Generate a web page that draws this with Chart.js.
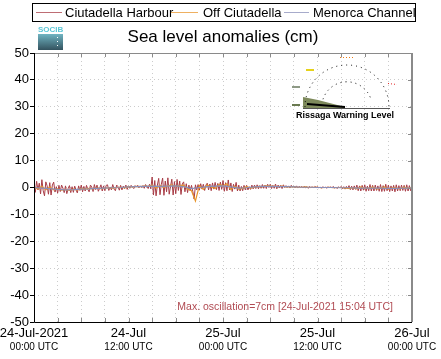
<!DOCTYPE html>
<html>
<head>
<meta charset="utf-8">
<script src="https://cdn.jsdelivr.net/npm/chart.js@4.4.1/dist/chart.umd.min.js"></script>
<style>
  html, body { margin: 0; padding: 0; background: #fff; }
  canvas { display: block; }
</style>
</head>
<body>
<canvas id="slaChart" width="441" height="359"></canvas>
<script>
// series names and colours
const seriesNames = ["Ciutadella Harbour", "Off Ciutadella", "Menorca Channel"];
const seriesColors = ["#a83c46", "#e8952c", "#8a8fba"];

// hours since 24-Jul-2021 00:00 UTC
const xTickHours = [0, 12, 24, 36, 48];
const xTickDates = ["24-Jul-2021", "24-Jul", "25-Jul", "25-Jul", "26-Jul"];
const xTickTimes = ["00:00 UTC", "12:00 UTC", "00:00 UTC", "12:00 UTC", "00:00 UTC"];
const yTicks = [-50, -40, -30, -20, -10, 0, 10, 20, 30, 40, 50];

// Ciutadella Harbour, one value every 10 min (cm), one row per hour
const harbourStep = 1 / 6;
const harbour = [
  0.4, -1.8, 2.3, -0.9, 1.6, -2.4,
  2.9, -1.2, -3.1, 2.1, 0.6, -2.5,
  1.8, -2.8, 0.9, 2.0, -1.7, 0.3,
  -2.1, 0.8, -1.5, 0.9, -0.2, -1.9,
  0.6, -2.3, -0.4, 0.7, -1.9, 0.3,
  -1.8, 0.5, -0.9, -2.0, 0.6, -1.1,
  0.9, -1.6, 0.4, -1.3, 0.8, -0.7,
  -1.6, 0.9, 0.2, -1.5, 1.1, -0.8,
  0.9, -1.4, -0.3, 1.0, -1.3, 0.6,
  -1.2, 0.8, 1.0, -1.1, 0.2, -0.9,
  1.1, -0.6, -1.2, 0.9, 0.3, -1.0,
  0.8, -0.9, 0.5, -0.4, 0.9, -0.7,
  0.6, -0.3, 0.8, 0.1, -0.4, 0.7,
  0.2, 0.8, -0.1, 0.6, 0.0, 0.7,
  -0.3, 1.1, 0.2, -0.4, 1.2, -0.5,
  3.9, -2.8, 2.6, -3.1, 0.9, 3.4,
  -2.7, 1.2, 3.5, -2.9, 2.4, -1.6,
  3.6, -2.5, 0.4, 3.1, -2.8, 2.2,
  -2.3, 3.0, -1.1, 2.4, -2.6, 1.3,
  2.1, -1.6, 1.4, -1.9, 0.9, -1.2,
  0.8, -1.5, -4.3, 1.0, -0.9, 1.1,
  -1.0, 1.4, -0.6, 1.2, -1.1, 0.9,
  1.6, -0.9, 1.3, -1.2, 1.7, -0.6,
  1.9, -0.8, 1.5, -1.1, 2.0, -0.7,
  2.6, -1.4, 1.8, -1.2, 2.8, -0.9,
  1.7, -1.5, 1.2, -0.6, 1.9, -1.3,
  0.9, -1.3, 0.4, -1.2, 0.8, -0.9,
  0.8, -0.9, 0.3, -0.7, 0.9, -0.5,
  0.9, -0.4, 1.0, -0.5, 0.7, -0.3,
  1.1, -0.3, 0.9, -0.4, 1.2, 0.0,
  1.2, -0.4, 0.8, -0.3, 1.3, -0.5,
  0.9, -0.2, 0.8, -0.4, 1.0, 0.0,
  0.7, 0.0, 0.6, -0.2, 0.8, 0.1,
  0.5, -0.1, 0.6, -0.2, 0.4, 0.0,
  0.4, -0.2, 0.5, -0.1, 0.3, -0.3,
  0.4, -0.1, 0.3, -0.2, 0.4, 0.0,
  0.3, -0.2, 0.2, -0.3, 0.3, -0.1,
  0.2, -0.3, 0.3, -0.2, 0.3, -0.2,
  0.4, -0.3, 0.2, -0.4, 0.3, -0.2,
  0.4, -0.5, 0.3, -0.6, 0.4, -0.4,
  0.7, -0.8, 0.5, -0.9, 0.6, -0.7,
  0.9, -1.2, 0.6, -1.3, 0.8, -1.0,
  1.0, -1.4, 0.5, -1.2, 1.1, -1.3,
  0.8, -1.3, 0.9, -1.1, 0.6, -1.4,
  1.1, -1.5, 0.7, -1.4, 1.2, -1.2,
  0.9, -1.5, 0.6, -1.3, 0.8, -1.6,
  1.0, -1.3, 0.7, -1.2, 0.9, -1.1,
  0.8, -1.4, 1.0, -1.3, 0.7, -1.2,
  0.2
];

// Off Ciutadella, one value every 30 min (cm)
const offStep = 0.5;
const offCiutadella = [
  0.3, -0.6,  0.5, -0.8,  0.2, -0.9,  -0.5, -1.0,  -0.7, -1.1,  -0.6, -0.9,
  -0.4, -0.6,  -0.3, -0.5,  -0.2, -0.4,  -0.3, -0.1,  -0.2, 0.0,  0.1, -0.1,
  0.3, 0.2,  0.4, 0.3,  0.5, 0.4,  0.9, -0.2,  0.8, 0.1,  0.6, 1.0,
  0.3, 0.7,  0.9, -0.6,  -1.2, -5.0,  0.8, -0.7,  0.9, 0.2,  -0.4, 1.2,
  0.6, 1.4,  -0.8, 0.5,  -0.6, -0.3,  0.3, -0.2,  0.1, 0.4,  0.3, 0.6,
  0.5, 0.4,  0.3, 0.5,  0.2, 0.3,  0.2, 0.1,  0.1, 0.2,  0.0, 0.1,
  0.1, -0.1,  0.0, 0.1,  -0.1, 0.0,  0.0, -0.2,  -0.3, -0.1,  -0.5, 0.2,
  -0.4, -0.2,  0.1, -0.5,  -0.3, 0.2,  -0.6, -0.1,  -0.2, -0.5,  0.1, -0.3,
  -0.1
];

// Menorca Channel, one value every hour (cm)
const channelStep = 1;
const menorcaChannel = [
  0.0, -0.2, -0.4, -0.7, -0.9, -0.8, -0.6, -0.5, -0.3, -0.2, -0.1, 0.0,
  0.2, 0.3, 0.4, 0.5, 0.4, 0.5, 0.6, 0.3, -0.4, 0.0, 0.3, 0.5,
  0.6, 0.2, -0.2, -0.1, 0.2, 0.4, 0.4, 0.3, 0.3, 0.2, 0.1, 0.1,
  0.0, 0.0, 0.0, -0.1, -0.1, -0.2, -0.2, -0.2, -0.2, -0.3, -0.3, -0.2,
  -0.2
];

const maxOscText = "Max. oscillation=7cm [24-Jul-2021 15:04 UTC]";
const titleText = "Sea level anomalies (cm)";
const FONT = "'Liberation Sans', Arial, Helvetica, sans-serif";

const toPoints = (vals, step) => vals.map((v, i) => ({ x: i * step, y: v }));

// legend, title, logo, frame, tick labels and the warning gauge
const decorations = {
  id: "decorations",
  afterDraw(chart) {
    const ctx = chart.ctx;
    const area = chart.chartArea;
    const xs = chart.scales.x;
    const ys = chart.scales.y;
    ctx.save();

    // frame
    ctx.strokeStyle = "#8a8a8a";
    ctx.lineWidth = 2;
    ctx.beginPath();
    ctx.moveTo(area.right, area.top);
    ctx.lineTo(area.right, area.bottom);
    ctx.stroke();
    ctx.lineWidth = 1;
    ctx.beginPath();
    ctx.moveTo(area.left, area.top + 0.5);
    ctx.lineTo(area.right, area.top + 0.5);
    ctx.stroke();
    // inner ticks
    for (let h = 0; h <= 48; h += 3) {
      const px = Math.round(xs.getPixelForValue(h)) + 0.5;
      ctx.beginPath();
      ctx.moveTo(px, area.bottom); ctx.lineTo(px, area.bottom - 4);
      ctx.moveTo(px, area.top); ctx.lineTo(px, area.top + 4);
      ctx.stroke();
    }
    yTicks.forEach(v => {
      const py = Math.round(ys.getPixelForValue(v)) + 0.5;
      ctx.beginPath();
      ctx.moveTo(area.right, py); ctx.lineTo(area.right - 4, py);
      ctx.stroke();
    });
    ctx.strokeStyle = "#000";
    ctx.beginPath();
    ctx.moveTo(area.left + 0.5, area.top);
    ctx.lineTo(area.left + 0.5, area.bottom + 0.5);
    ctx.lineTo(area.right, area.bottom + 0.5);
    ctx.stroke();

    // x labels, two lines
    ctx.fillStyle = "#000";
    ctx.textAlign = "center";
    ctx.textBaseline = "middle";
    xTickHours.forEach((h, i) => {
      const px = xs.getPixelForValue(h);
      ctx.font = "13px " + FONT;
      ctx.fillText(xTickDates[i], px, 333);
      ctx.font = "10px " + FONT;
      ctx.fillText(xTickTimes[i], px, 347);
    });

    // max oscillation note
    ctx.font = "10.5px " + FONT;
    ctx.fillStyle = "#b04a52";
    ctx.textAlign = "right";
    ctx.fillText(maxOscText, 393, 307);

    // title
    ctx.fillStyle = "#000";
    ctx.textAlign = "center";
    ctx.font = "17px " + FONT;
    ctx.fillText(titleText, 223, 37);

    // legend box
    ctx.strokeStyle = "#000";
    ctx.lineWidth = 1;
    ctx.strokeRect(32.5, 3.5, 383, 18);
    const legendLines = [[36, 62, 65], [171, 198, 203], [284, 309, 313]];
    ctx.font = "13px " + FONT;
    ctx.textAlign = "left";
    seriesNames.forEach((name, i) => {
      const [a, b, t] = legendLines[i];
      ctx.strokeStyle = seriesColors[i];
      ctx.globalAlpha = 0.75;
      ctx.beginPath();
      ctx.moveTo(a, 12.5); ctx.lineTo(b, 12.5);
      ctx.stroke();
      ctx.globalAlpha = 1;
      ctx.fillStyle = "#000";
      ctx.fillText(name, t, 13);
    });

    // SOCIB logo
    ctx.font = "bold 8px " + FONT;
    ctx.fillStyle = "#5cc6d6";
    ctx.fillText("SOCIB", 38, 30);
    const g = ctx.createLinearGradient(0, 34, 0, 50);
    g.addColorStop(0, "#70b4c2");
    g.addColorStop(1, "#33525e");
    ctx.fillStyle = g;
    ctx.fillRect(38, 34, 25, 16);
    ctx.fillStyle = "#fff";
    [37, 41, 45].forEach(y => ctx.fillRect(57, y, 1, 1));

    // rissaga warning gauge
    const cx = 347, cy = 107, r = 42;
    ctx.fillStyle = "#7e8a5c";
    ctx.beginPath();
    ctx.moveTo(303, 97); ctx.lineTo(318, 100); ctx.lineTo(345, 107);
    ctx.lineTo(345, 108); ctx.lineTo(303, 108);
    ctx.closePath(); ctx.fill();
    ctx.strokeStyle = "#000";
    ctx.setLineDash([1, 4]);
    ctx.beginPath();
    ctx.arc(cx, cy, r, Math.PI, 2 * Math.PI);
    ctx.stroke();
    ctx.beginPath();
    ctx.arc(cx, cy, r * 0.6, Math.PI * 1.1, Math.PI * 1.9);
    ctx.stroke();
    ctx.setLineDash([]);
    ctx.lineWidth = 2;
    ctx.beginPath();
    ctx.moveTo(307, 104); ctx.lineTo(345, 107);
    ctx.stroke();
    ctx.lineWidth = 1;
    ctx.strokeStyle = "#555";
    ctx.beginPath();
    ctx.moveTo(303, 108.5); ctx.lineTo(390, 108.5);
    ctx.stroke();
    ctx.fillStyle = "#e6d21a"; ctx.fillRect(306, 69, 8, 2);
    ctx.fillStyle = "#8e9a86"; ctx.fillRect(292, 86, 8, 2);
    ctx.fillStyle = "#6a7a50"; ctx.fillRect(292, 104, 8, 2);
    ctx.setLineDash([1, 2]);
    ctx.strokeStyle = "#f07a10";
    ctx.beginPath(); ctx.moveTo(340, 57.5); ctx.lineTo(354, 57.5); ctx.stroke();
    ctx.strokeStyle = "#e02020";
    ctx.beginPath(); ctx.moveTo(388, 83.5); ctx.lineTo(397, 84.5); ctx.stroke();
    ctx.setLineDash([]);
    ctx.fillStyle = "#000";
    ctx.font = "bold 9px " + FONT;
    ctx.textAlign = "center";
    ctx.fillText("Rissaga Warning Level", 345, 116);

    ctx.restore();
  }
};

new Chart(document.getElementById("slaChart"), {
  type: "line",
  data: {
    datasets: [
      { label: seriesNames[0], data: toPoints(harbour, harbourStep), borderColor: seriesColors[0], borderWidth: 1, order: 3 },
      { label: seriesNames[1], data: toPoints(offCiutadella, offStep), borderColor: seriesColors[1], borderWidth: 1.2, order: 2 },
      { label: seriesNames[2], data: toPoints(menorcaChannel, channelStep), borderColor: seriesColors[2], borderWidth: 1.2, order: 1 }
    ]
  },
  options: {
    responsive: false,
    animation: false,
    events: [],
    layout: { padding: { left: 0, right: 29, top: 53, bottom: 0 } },
    elements: { point: { radius: 0 }, line: { tension: 0 } },
    plugins: { legend: { display: false }, title: { display: false }, tooltip: { enabled: false } },
    scales: {
      x: {
        type: "linear",
        min: 0,
        max: 48,
        afterFit(scale) { scale.height = 37; },
        ticks: { display: false, stepSize: 3 },
        grid: { color: "#cccccc", drawTicks: false },
        border: { display: false, dash: [1, 3] }
      },
      y: {
        min: -50,
        max: 50,
        afterFit(scale) { scale.width = 34; },
        ticks: { stepSize: 10, padding: 1, color: "#000", font: { family: FONT, size: 13 } },
        grid: { color: "#cccccc", tickColor: "#000", tickLength: 4, tickBorderDash: [] },
        border: { display: false, dash: [1, 3] }
      }
    }
  },
  plugins: [decorations]
});
</script>
</body>
</html>
